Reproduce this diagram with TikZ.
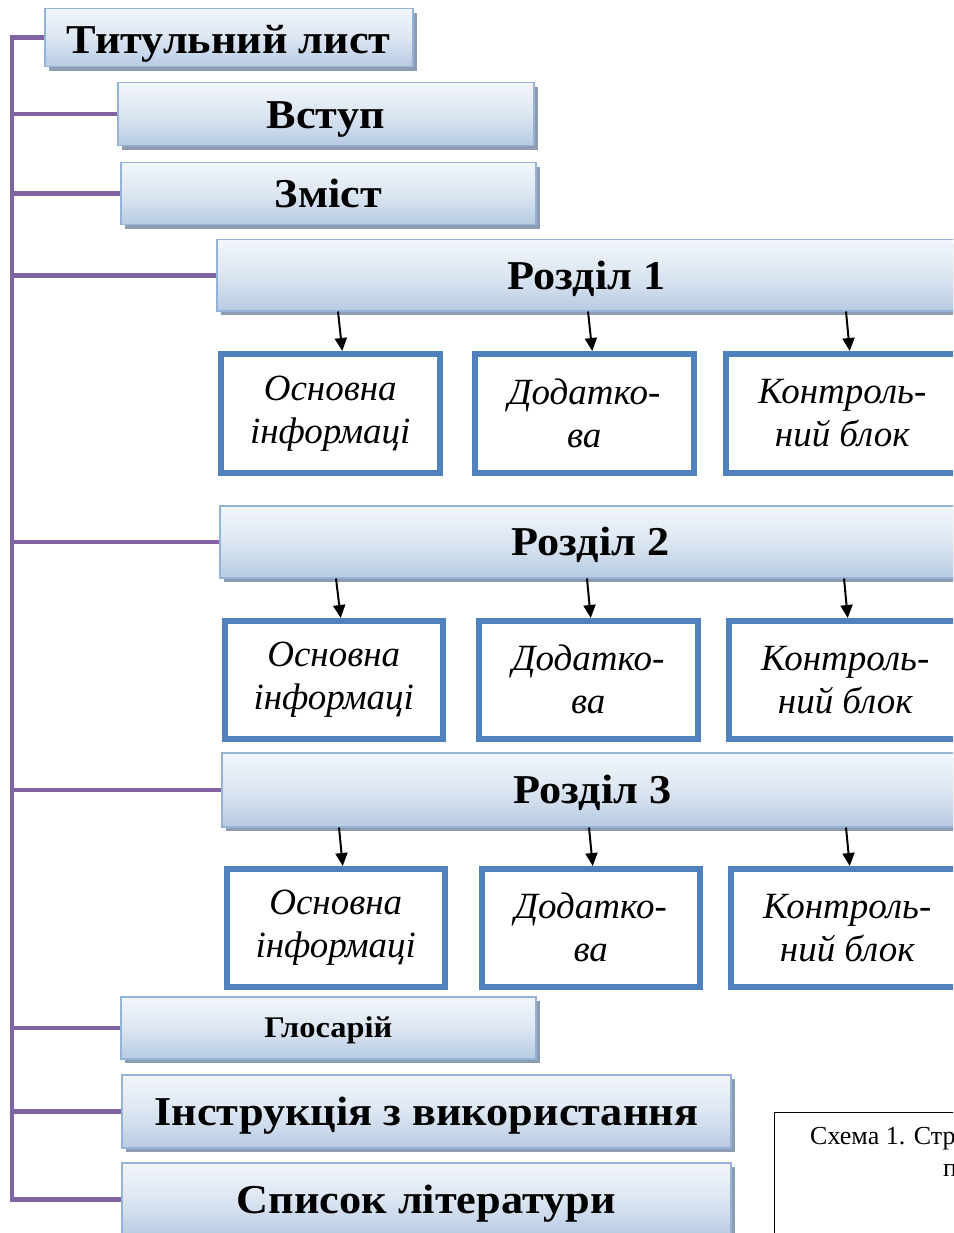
\documentclass[tikz,border=0pt]{standalone}
\usepackage{fontspec}
\setmainfont{Liberation Serif}
\newfontfamily\wideserif{Liberation Serif}[FakeStretch=1.08]
\usetikzlibrary{shadows,calc,arrows.meta}
\definecolor{purp}{HTML}{8064A2}
\definecolor{bbord}{HTML}{95B3D7}
\definecolor{btop}{HTML}{F2F6FB}
\definecolor{bmid}{HTML}{DCE6F2}
\definecolor{bbot}{HTML}{B7CBE3}
\definecolor{shad}{HTML}{8D9CB0}
\definecolor{sblue}{HTML}{4F81BD}
\tikzset{
  gbox/.style={draw=bbord, line width=1.5pt, top color=btop, bottom color=bbot, middle color=bmid,
    anchor=north west, inner sep=0pt, text height=28pt, text depth=0pt,
    font=\wideserif\bfseries\fontsize{41}{45}\selectfont,
    drop shadow={shadow xshift=4pt, shadow yshift=-4pt, fill=shad, opacity=1}},
  sbox/.style={draw=sblue, line width=5.5pt, fill=white, anchor=north west, inner sep=0pt,
    align=center, font=\itshape\fontsize{37}{43}\selectfont},
  purpl/.style={draw=purp, line width=4.5pt},
  arr/.style={draw=black, line width=2pt, -{Triangle[length=13pt,width=12pt]}}
}
\begin{document}
\begin{tikzpicture}[x=1pt,y=-1pt]
\useasboundingbox (0,0) rectangle (953,1233);
\clip (0,0) rectangle (953,1233);
% top-level boxes
\node[gbox, minimum width=368pt, minimum height=58pt, text height=31pt] (tit) at (44,8) {Титульний лист};
\node[gbox, minimum width=416pt, minimum height=63pt] (vst) at (117,82) {Вступ};
\node[gbox, minimum width=415pt, minimum height=62pt] (zmi) at (120,162) {Зміст};
\node[gbox, minimum width=740pt, minimum height=71pt] (r1) at (216,239) {Розділ 1};
\node[gbox, minimum width=742pt, minimum height=72pt] (r2) at (219,505) {Розділ 2};
\node[gbox, minimum width=742pt, minimum height=74pt] (r3) at (221,752) {Розділ 3};
\node[gbox, minimum width=415pt, minimum height=62pt, text height=20pt, font=\wideserif\bfseries\fontsize{30}{34}\selectfont] (glo) at (120,996) {Глосарій};
\node[gbox, minimum width=609pt, minimum height=73pt] (ins) at (121,1074) {Інструкція з використання};
\node[gbox, minimum width=609pt, minimum height=73pt] (spi) at (121,1162) {Список літератури};
% sub boxes
\node[sbox, minimum width=219pt, minimum height=119pt] (a1) at (218,351) {Основна\\інформаці};
\node[sbox, minimum width=219pt, minimum height=119pt] (b1) at (472,351) {Додатко-\\ва};
\node[sbox, minimum width=233pt, minimum height=119pt] (c1) at (723,351) {Контроль-\\ний блок};
\node[sbox, minimum width=218pt, minimum height=118pt] (a2) at (222,618) {Основна\\інформаці};
\node[sbox, minimum width=219pt, minimum height=118pt] (b2) at (476,618) {Додатко-\\ва};
\node[sbox, minimum width=233pt, minimum height=118pt] (c2) at (726,618) {Контроль-\\ний блок};
\node[sbox, minimum width=218pt, minimum height=118pt] (a3) at (224,866) {Основна\\інформаці};
\node[sbox, minimum width=218pt, minimum height=118pt] (b3) at (479,866) {Додатко-\\ва};
\node[sbox, minimum width=233pt, minimum height=118pt] (c3) at (728,866) {Контроль-\\ний блок};
% caption
\node[draw=black, line width=1.3pt, anchor=north west, minimum width=200pt, minimum height=140pt] (cap) at (774,1112) {};
\node[anchor=west, inner sep=0pt, font=\fontsize{26}{30}\selectfont] (capt) at (810,1139) {Схема 1. Стр};
\node[anchor=west, inner sep=0pt, font=\fontsize{26}{30}\selectfont] (capt2) at (943,1171) {п};
% trunk
\coordinate (X) at (12,0);
\draw[purpl] (tit.west) -| (spi.west -| X) -- (spi.west);
\foreach \n in {vst,zmi,r1,r2,r3,glo,ins}{\draw[purpl] (\n.west -| X) -- (\n.west);}
% arrows
\draw[arr] ([xshift=122pt]r1.south west) -- ([xshift=12pt]a1.north);
\draw[arr] ([xshift=372pt]r1.south west) -- ([xshift=8pt]b1.north);
\draw[arr] ([xshift=630pt]r1.south west) -- ([xshift=7.5pt]c1.north);
\draw[arr] ([xshift=117pt]r2.south west) -- ([xshift=7pt]a2.north);
\draw[arr] ([xshift=368pt]r2.south west) -- ([xshift=2.5pt]b2.north);
\draw[arr] ([xshift=625pt]r2.south west) -- ([xshift=2.5pt]c2.north);
\draw[arr] ([xshift=118pt]r3.south west) -- ([xshift=7pt]a3.north);
\draw[arr] ([xshift=368pt]r3.south west) -- ([xshift=2pt]b3.north);
\draw[arr] ([xshift=625pt]r3.south west) -- ([xshift=2.5pt]c3.north);
\end{tikzpicture}
\end{document}
